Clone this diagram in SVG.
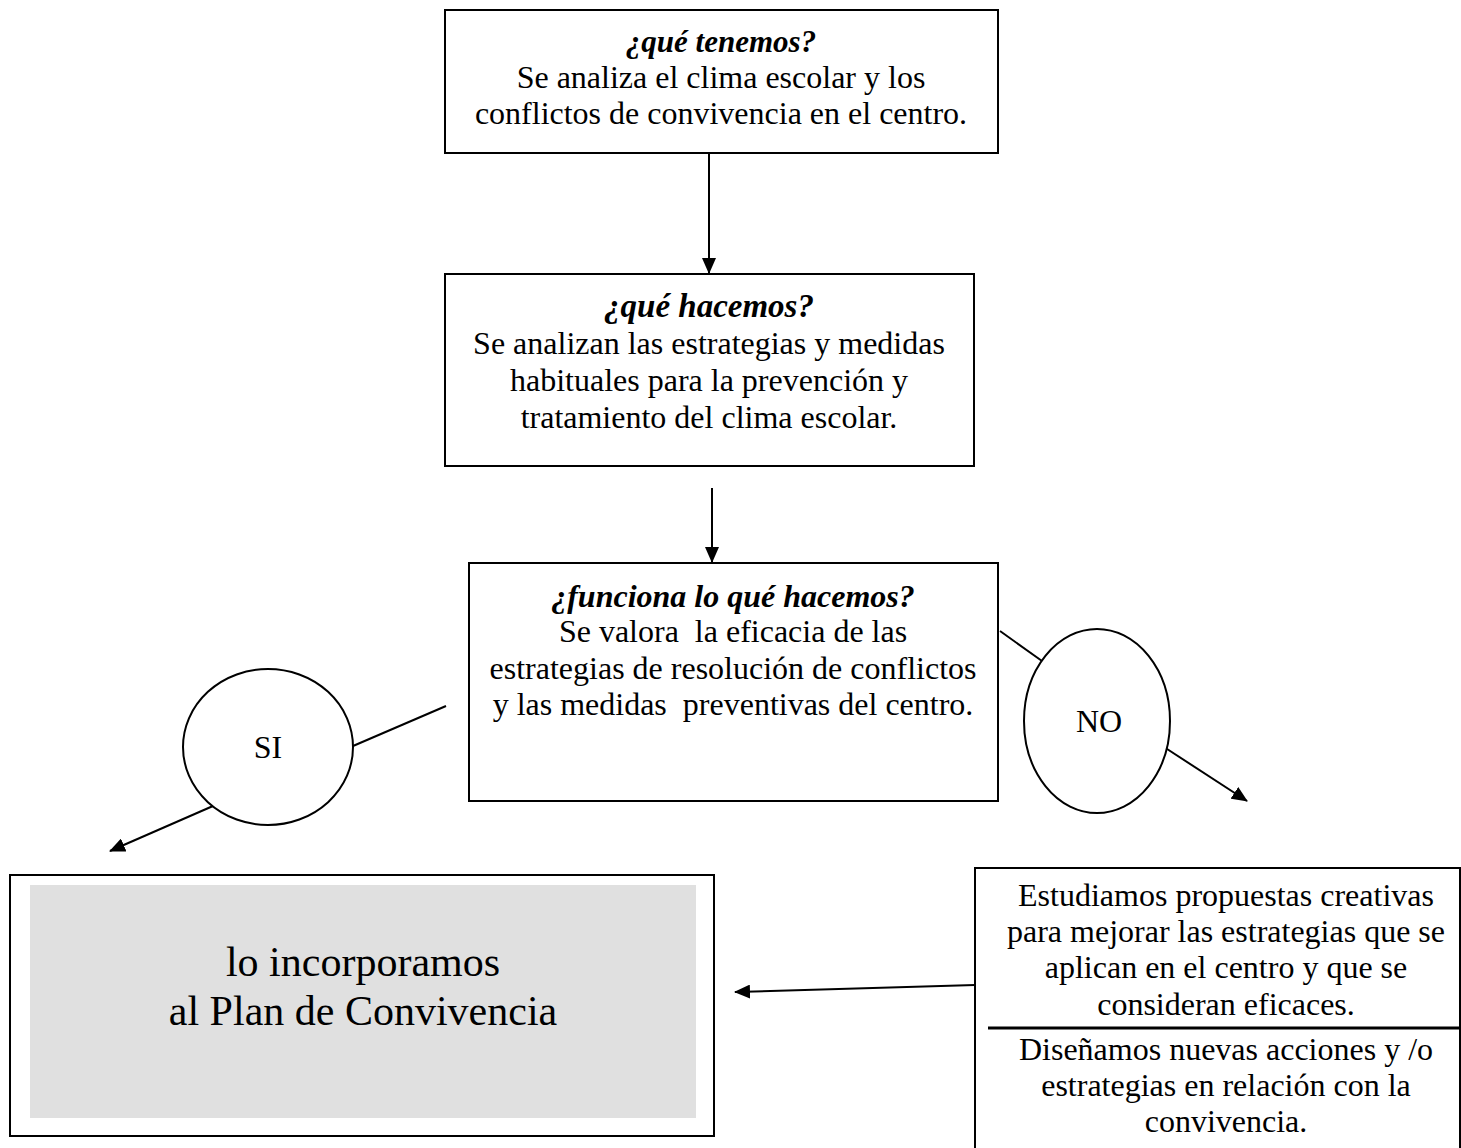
<svg xmlns="http://www.w3.org/2000/svg" width="1461" height="1148" viewBox="0 0 1461 1148">
<style>
.box{fill:#fff;stroke:#000;stroke-width:2}
.t{font-family:"Liberation Serif","Times New Roman",serif;fill:#000;text-anchor:middle;font-size:32px}
.h{font-weight:bold;font-style:italic}
.c{fill:none;stroke:#000;stroke-width:2}
.big{font-size:42px}
</style>
<defs>
<marker id="ah" markerWidth="16" markerHeight="14" refX="15" refY="7" orient="auto" markerUnits="userSpaceOnUse" viewBox="0 0 16 14">
<path d="M0,0 L16,7 L0,14 z" fill="#000"/>
</marker>
</defs>
<g id="connectors">
<line class="c" x1="709" y1="153" x2="709" y2="273" marker-end="url(#ah)"/>
<line class="c" x1="712" y1="488" x2="712" y2="562" marker-end="url(#ah)"/>
<line class="c" x1="446" y1="706" x2="353" y2="746"/>
<line class="c" x1="213" y1="806" x2="110" y2="851" marker-end="url(#ah)"/>
<line class="c" x1="1000" y1="631" x2="1042" y2="661"/>
<line class="c" x1="1164" y1="747" x2="1247" y2="801" marker-end="url(#ah)"/>
<line class="c" x1="975" y1="985" x2="735" y2="992" marker-end="url(#ah)"/>
</g>
<g id="n1">
<rect class="box" x="445" y="10" width="553" height="143"/>
<text class="t h" x="721" y="52" style="font-size:31px">¿qué tenemos?</text>
<text class="t" x="721" y="88">Se analiza el clima escolar y los</text>
<text class="t" x="721" y="124">conflictos de convivencia en el centro.</text>
</g>
<g id="n2">
<rect class="box" x="445" y="274" width="529" height="192"/>
<text class="t h" x="709" y="317" style="font-size:33px">¿qué hacemos?</text>
<text class="t" x="709" y="354">Se analizan las estrategias y medidas</text>
<text class="t" x="709" y="391">habituales para la prevención y</text>
<text class="t" x="709" y="428">tratamiento del clima escolar.</text>
</g>
<g id="n3">
<rect class="box" x="469" y="563" width="529" height="238"/>
<text class="t h" x="733" y="607">¿funciona lo qué hacemos?</text>
<text class="t" x="733" y="642" xml:space="preserve">Se valora  la eficacia de las</text>
<text class="t" x="733" y="679">estrategias de resolución de conflictos</text>
<text class="t" x="733" y="715" xml:space="preserve">y las medidas  preventivas del centro.</text>
</g>
<g id="si">
<ellipse class="box" cx="268" cy="747" rx="85" ry="78"/>
<text class="t" x="268" y="758">SI</text>
</g>
<g id="no">
<ellipse class="box" cx="1097" cy="721" rx="73" ry="92"/>
<text class="t" x="1099" y="732">NO</text>
</g>
<g id="n4">
<rect class="box" x="10" y="875" width="704" height="261"/>
<rect x="30" y="885" width="666" height="233" fill="#e0e0e0"/>
<text class="t big" x="363" y="976">lo incorporamos</text>
<text class="t big" x="363" y="1025">al Plan de Convivencia</text>
</g>
<g id="n5">
<rect class="box" x="975" y="868" width="485" height="290"/>
<line x1="988" y1="1028" x2="1461" y2="1028" stroke="#000" stroke-width="3"/>
<text class="t" x="1226" y="906">Estudiamos propuestas creativas</text>
<text class="t" x="1226" y="942">para mejorar las estrategias que se</text>
<text class="t" x="1226" y="978">aplican en el centro y que se</text>
<text class="t" x="1226" y="1015">consideran eficaces.</text>
<text class="t" x="1226" y="1060">Diseñamos nuevas acciones y /o</text>
<text class="t" x="1226" y="1096">estrategias en relación con la</text>
<text class="t" x="1226" y="1132">convivencia.</text>
</g>
</svg>
